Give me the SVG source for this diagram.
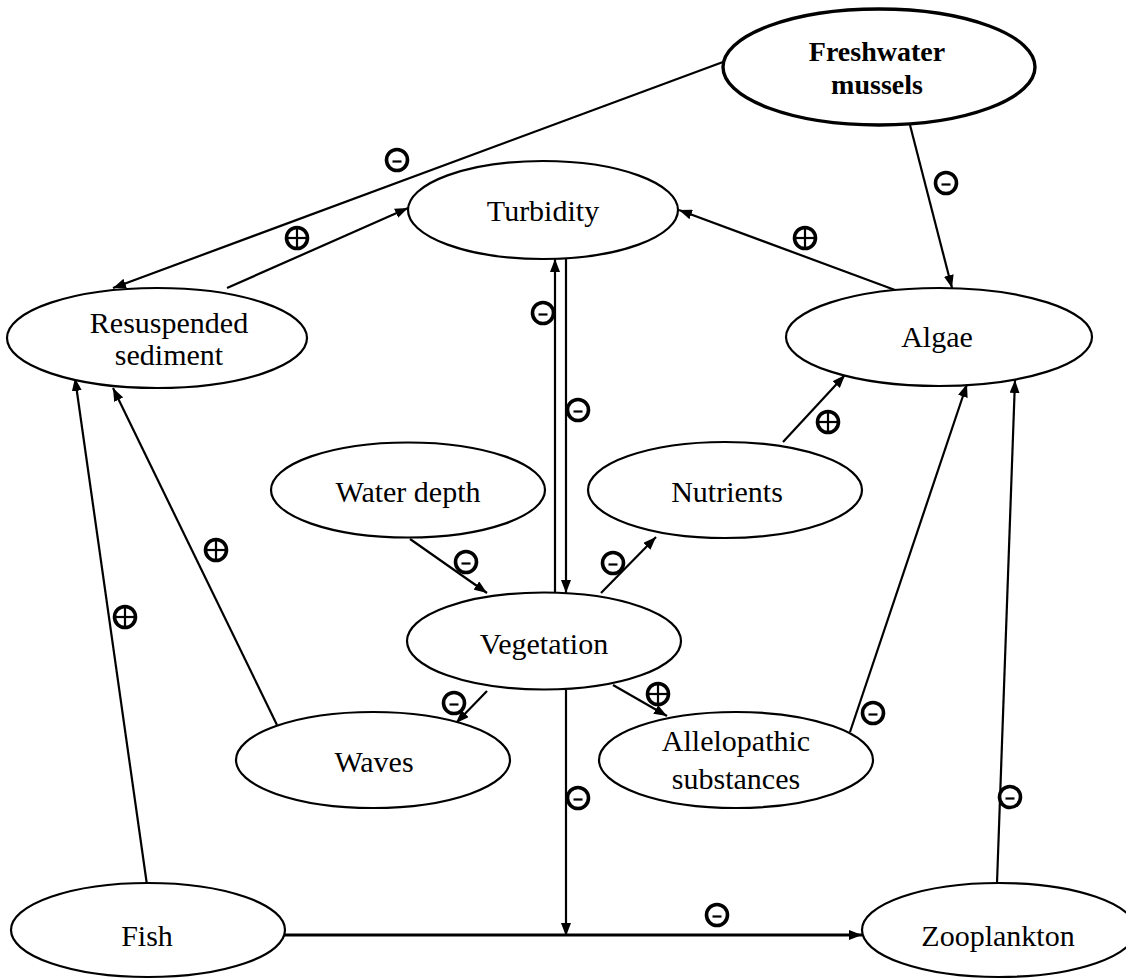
<svg xmlns="http://www.w3.org/2000/svg" width="1126" height="980" viewBox="0 0 1126 980">
  <style>
    .node { fill: #fff; stroke: #000; stroke-width: 2.2; }
    .node-bold { fill: #fff; stroke: #000; stroke-width: 3.4; }
    .label { font-family: "Liberation Serif", "Times New Roman", serif; font-size: 30px; fill: #000; text-anchor: middle; }
    .label-bold { font-family: "Liberation Serif", "Times New Roman", serif; font-size: 28px; font-weight: bold; fill: #000; text-anchor: middle; }
    .edge { fill: none; stroke: #000; stroke-width: 2.2; marker-end: url(#arrow); }
    .edge-thick { fill: none; stroke: #000; stroke-width: 3.2; marker-end: url(#arrow); }
    .sign-ring { fill: #fff; stroke: #000; stroke-width: 3.6; }
    .sign-bar { stroke: #000; stroke-width: 2.2; }
  </style>
  <defs>
    <marker id="arrow" markerUnits="userSpaceOnUse" markerWidth="14" markerHeight="10" refX="13" refY="5" orient="auto">
      <path d="M0,0 L13,5 L0,10 z" fill="#000"/>
    </marker>
    <g id="neg">
      <circle class="sign-ring" cx="0" cy="0" r="10.5"/>
      <line class="sign-bar" x1="-4.5" y1="1.5" x2="4.5" y2="1.5"/>
    </g>
    <g id="pos">
      <circle class="sign-ring" cx="0" cy="0" r="10.5"/>
      <line class="sign-bar" x1="-9" y1="0" x2="9" y2="0"/>
      <line class="sign-bar" x1="0" y1="-9" x2="0" y2="9"/>
    </g>
  </defs>

  <rect width="1126" height="980" fill="#fff"/>

  <!-- connectors -->
  <g id="connectors">
    <path class="edge" d="M723,62 L113,288"/>
    <path class="edge" d="M910,125 L952,288"/>
    <path class="edge" d="M227,288 L408,208"/>
    <path class="edge" d="M895,290 L679,210"/>
    <path class="edge" d="M555,593 L555,259"/>
    <path class="edge" d="M566,259 L566,593"/>
    <path class="edge" d="M410,539 L487,593"/>
    <path class="edge" d="M601,593 L656,537"/>
    <path class="edge" d="M783,442 L845,375"/>
    <path class="edge" d="M487,691 L456,723"/>
    <path class="edge" d="M613,685 L667,716"/>
    <path class="edge" d="M277,725 L113,388"/>
    <path class="edge" d="M147,885 L75,378"/>
    <path class="edge" d="M850,732 L967,384"/>
    <path class="edge" d="M997,883 L1015,380"/>
    <path class="edge-thick" d="M284,935 L862,935"/>
    <path class="edge" d="M566,690 L566,936"/>
  </g>

  <!-- nodes -->
  <g id="freshwater-mussels">
    <ellipse class="node-bold" cx="879" cy="67" rx="156" ry="58"/>
    <text class="label-bold" x="877" y="61">Freshwater</text>
    <text class="label-bold" x="877" y="94">mussels</text>
  </g>
  <g id="turbidity">
    <ellipse class="node" cx="543" cy="210" rx="135" ry="49"/>
    <text class="label" x="543" y="221">Turbidity</text>
  </g>
  <g id="resuspended-sediment">
    <ellipse class="node" cx="157" cy="338" rx="150" ry="50"/>
    <text class="label" x="169" y="333">Resuspended</text>
    <text class="label" x="169" y="365">sediment</text>
  </g>
  <g id="algae">
    <ellipse class="node" cx="939" cy="337" rx="153" ry="49"/>
    <text class="label" x="937" y="347">Algae</text>
  </g>
  <g id="water-depth">
    <ellipse class="node" cx="408" cy="490" rx="137" ry="47.5"/>
    <text class="label" x="408" y="502">Water depth</text>
  </g>
  <g id="nutrients">
    <ellipse class="node" cx="725" cy="490" rx="137" ry="48"/>
    <text class="label" x="727" y="502">Nutrients</text>
  </g>
  <g id="vegetation">
    <ellipse class="node" cx="544" cy="641" rx="137" ry="48.5"/>
    <text class="label" x="544" y="654">Vegetation</text>
  </g>
  <g id="waves">
    <ellipse class="node" cx="373" cy="760" rx="137" ry="48"/>
    <text class="label" x="374" y="772">Waves</text>
  </g>
  <g id="allelopathic-substances">
    <ellipse class="node" cx="736" cy="760" rx="137" ry="48"/>
    <text class="label" x="736" y="751">Allelopathic</text>
    <text class="label" x="736" y="789">substances</text>
  </g>
  <g id="fish">
    <ellipse class="node" cx="148" cy="930" rx="137" ry="47"/>
    <text class="label" x="147" y="946">Fish</text>
  </g>
  <g id="zooplankton">
    <ellipse class="node" cx="999" cy="930" rx="137" ry="47"/>
    <text class="label" x="998" y="946">Zooplankton</text>
  </g>

  <!-- polarity signs -->
  <g id="signs">
    <use href="#neg" x="397" y="160"/>
    <use href="#neg" x="946" y="183"/>
    <use href="#neg" x="543" y="313"/>
    <use href="#neg" x="578" y="410"/>
    <use href="#neg" x="466" y="562"/>
    <use href="#neg" x="613" y="563"/>
    <use href="#neg" x="454" y="703"/>
    <use href="#neg" x="873" y="713"/>
    <use href="#neg" x="1010" y="797"/>
    <use href="#neg" x="578" y="798"/>
    <use href="#neg" x="717" y="915"/>
    <use href="#pos" x="297" y="238"/>
    <use href="#pos" x="805" y="238"/>
    <use href="#pos" x="828" y="422"/>
    <use href="#pos" x="658" y="694"/>
    <use href="#pos" x="216" y="550"/>
    <use href="#pos" x="125" y="617"/>
  </g>
</svg>
